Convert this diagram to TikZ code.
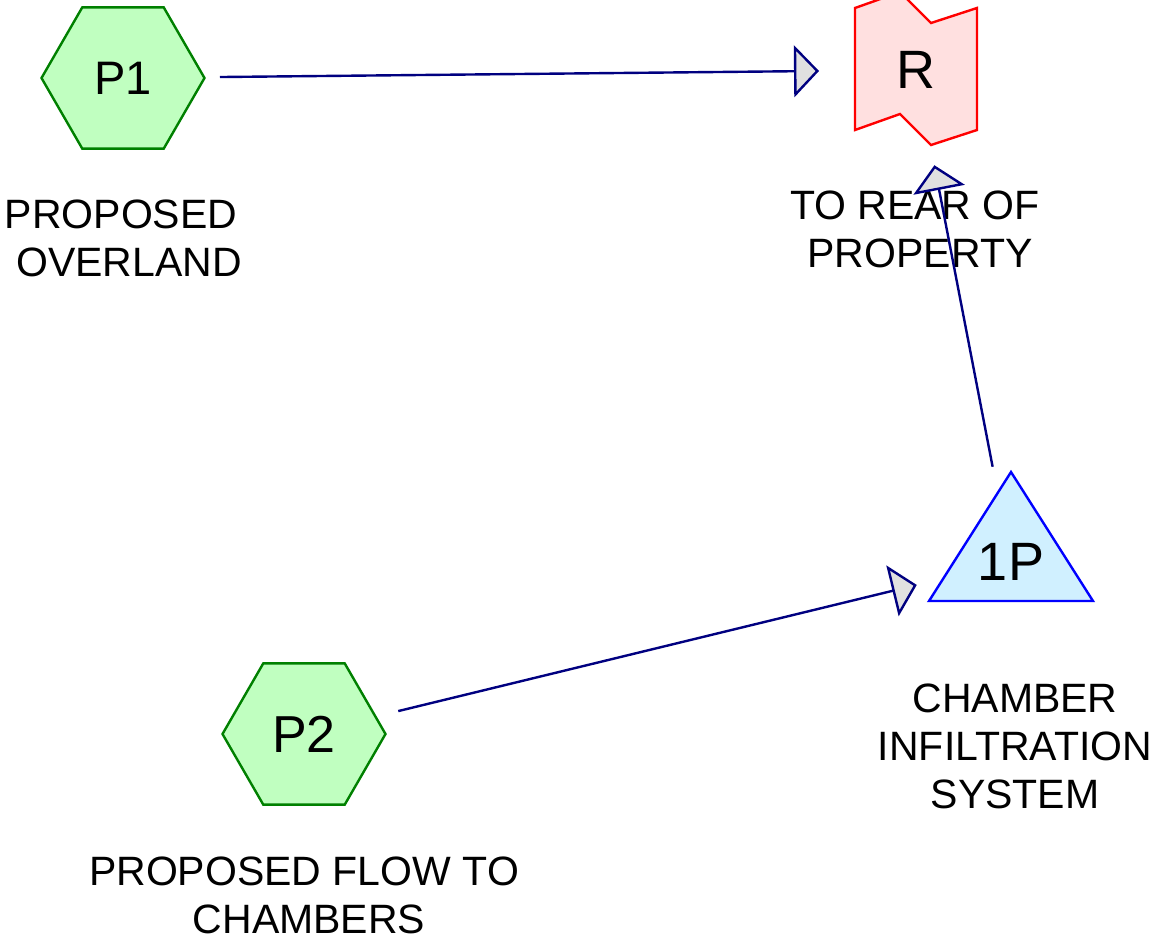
\documentclass[tikz,border=0pt]{standalone}
\usepackage{fontspec}
\setmainfont{Liberation Sans}
\usetikzlibrary{arrows.meta,calc,shapes.geometric}

\definecolor{hexfill}{HTML}{C0FFC0}
\definecolor{hexline}{HTML}{008000}
\definecolor{reachfill}{HTML}{FFE0E0}
\definecolor{reachline}{HTML}{FF0000}
\definecolor{pondfill}{HTML}{D0F0FF}
\definecolor{pondline}{HTML}{0000FF}
\definecolor{flowline}{HTML}{000080}
\definecolor{tipfill}{HTML}{E0E0E0}

\begin{document}
\begin{tikzpicture}[x=1pt, y=-1pt,
  hexnode/.style={regular polygon, regular polygon sides=6, minimum size=163pt,
    inner sep=0pt, outer sep=0pt, draw=hexline, fill=hexfill, line width=2.4pt},
  bigtext/.style={inner sep=0pt, font=\fontsize{#1}{#1}\selectfont},
  caption/.style={align=center, inner sep=0pt, font=\fontsize{41}{48}\selectfont},
  flow/.style={draw=flowline, line width=2.4pt, shorten >=97pt, shorten <=97pt,
    -{Triangle[length=25pt, width=52pt, fill=tipfill, line width=2.4pt]}}]

\useasboundingbox (0,0) rectangle (1162,940);

% subcatchments
\node[hexnode, bigtext=47] (P1) at (123,78) {P1};
\node[hexnode, bigtext=52] (P2) at (304,734) {P2};

% reach
\coordinate (Rc) at (916,70);
\draw[draw=reachline, fill=reachfill, line width=2.4pt, line join=miter]
  ($(Rc)+(-61,-62)$) -- ($(Rc)+(-16,-78)$) -- ($(Rc)+(15,-47)$) -- ($(Rc)+(61,-62)$)
  -- ($(Rc)+(61,60)$) -- ($(Rc)+(15,75)$) -- ($(Rc)+(-16,44)$) -- ($(Rc)+(-61,60)$) -- cycle;
\node[bigtext=54] (R) at (Rc) {R};

% pond
\coordinate (Tc) at (1011,562);
\draw[draw=pondline, fill=pondfill, line width=2.4pt]
  ($(Tc)+(0,-90)$) -- ($(Tc)+(82,39)$) -- ($(Tc)+(-82,39)$) -- cycle;
\node[bigtext=54] (T) at (Tc) {1P};

% captions
\node[caption] (P1cap) at (121,238) {PROPOSED\\\hspace*{16pt}OVERLAND};
\node[caption] (Rcap) at (915,229) {TO REAR OF\\\hspace*{10pt}PROPERTY};
\node[caption] (Tcap) at (1015,746) {CHAMBER\\INFILTRATION\\SYSTEM};
\node[caption] (P2cap) at (304,895) {PROPOSED FLOW TO\\\hspace*{10pt}CHAMBERS};

% links
\draw[flow] (P1.center) -- (R.center);
\draw[flow] (T.center) -- (R.center);
\draw[flow] (P2.center) -- (T.center);
\end{tikzpicture}
\end{document}
